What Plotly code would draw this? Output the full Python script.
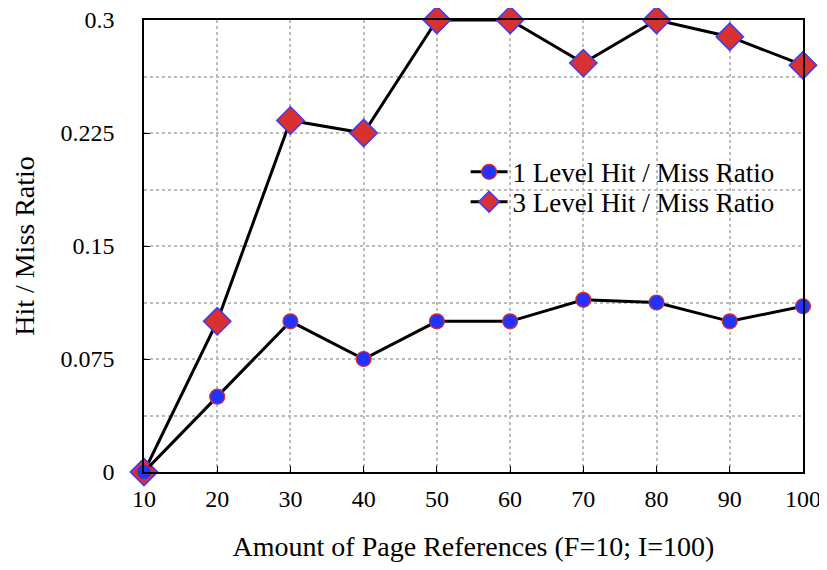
import plotly.graph_objects as go

x_refs = [10, 20, 30, 40, 50, 60, 70, 80, 90, 100]
one_level = [0, 0.05, 0.1, 0.075, 0.1, 0.1, 0.1143, 0.1125, 0.1, 0.11]
three_level = [0, 0.1, 0.2333, 0.225, 0.3, 0.3, 0.2714, 0.3, 0.2889, 0.27]
y_ticks = [0, 0.075, 0.15, 0.225, 0.3]
y_tick_labels = ["0", "0.075", "0.15", "0.225", "0.3"]

FONT = "Liberation Serif"

fig = go.Figure()
fig.add_trace(go.Scatter(
    x=x_refs, y=three_level, mode="lines+markers",
    name="3 Level Hit / Miss Ratio", legend="legend2",
    line=dict(color="black", width=3),
    marker=dict(symbol="diamond", size=21, color="#d93030",
                line=dict(color="#3a3aff", width=1.5)),
    cliponaxis=False,
))
fig.add_trace(go.Scatter(
    x=x_refs, y=one_level, mode="lines+markers",
    name="1 Level Hit / Miss Ratio", legend="legend",
    line=dict(color="black", width=3),
    marker=dict(symbol="circle", size=15, color="#2233ff",
                line=dict(color="#e03020", width=1.2)),
    cliponaxis=False,
))

leg_common = dict(xanchor="left", yanchor="middle", bgcolor="rgba(0,0,0,0)",
                  font=dict(family=FONT, size=27), itemwidth=37)

# page body has an 8px margin, so the figure is 8px smaller than the window
fig.update_layout(
    width=819, height=562,
    margin=dict(l=136, r=24, t=12, b=98, autoexpand=False),
    plot_bgcolor="white", paper_bgcolor="white",
    font=dict(family=FONT, size=24, color="black"),
    legend=dict(x=0.488, y=0.663, **leg_common),
    legend2=dict(x=0.488, y=0.597, **leg_common),
    showlegend=True,
)
fig.update_xaxes(
    range=[10, 100], tickvals=x_refs, automargin=False,
    tickfont=dict(family=FONT, size=24), ticklabeloverflow="allow",
    showline=True, linecolor="black", linewidth=1.5, mirror=True,
    ticks="inside", ticklen=6, tickcolor="black", ticklabelstandoff=4,
    showgrid=True, gridcolor="#bbbbbb", griddash="dot", gridwidth=1.5,
    zeroline=False,
    title=dict(text="Amount of Page References (F=10; I=100)", standoff=26,
               font=dict(family=FONT, size=28)),
)
fig.update_yaxes(
    range=[0, 0.3], tickvals=y_ticks, ticktext=y_tick_labels, automargin=False,
    tickfont=dict(family=FONT, size=24), ticklabeloverflow="allow",
    showline=True, linecolor="black", linewidth=1.5, mirror=True,
    ticks="inside", ticklen=6, tickcolor="black", ticklabelstandoff=23,
    showgrid=True, gridcolor="#bbbbbb", griddash="dot", gridwidth=1.5,
    minor=dict(dtick=0.0375, tick0=0, showgrid=True, gridcolor="#bbbbbb",
               griddash="dot", gridwidth=1.5, ticks=""),
    zeroline=False,
    title=dict(text="Hit / Miss Ratio", standoff=18,
               font=dict(family=FONT, size=28)),
)

fig.write_html("out.html")
